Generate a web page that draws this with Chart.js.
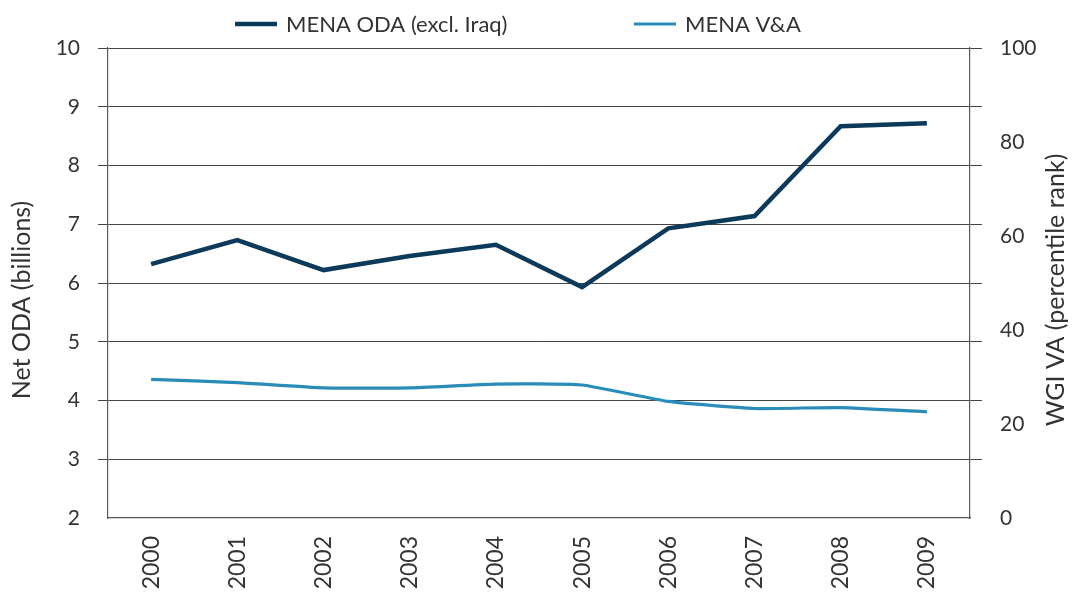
<!DOCTYPE html>
<html><head><meta charset="utf-8">
<script src="https://cdn.jsdelivr.net/npm/chart.js@4/dist/chart.umd.min.js"></script>
<style>html,body{margin:0;padding:0;background:#fff}#wrap{width:1078px;height:594px}</style>
</head><body><div id="wrap"><canvas id="c" width="1078" height="594"></canvas></div>
<script>
const years = ['2000','2001','2002','2003','2004','2005','2006','2007','2008','2009'];
const odaValues = [6.32, 6.73, 6.22, 6.46, 6.65, 5.93, 6.93, 7.14, 8.67, 8.72];
const vaValues = [29.5, 28.8, 27.7, 27.7, 28.5, 28.3, 24.8, 23.3, 23.5, 22.6];
const leftRange = [2, 10];
const rightRange = [0, 100];
const seriesLabels = ['MENA ODA (excl. Iraq)', 'MENA V&A'];
const axisTitles = ['Net ODA (billions)', 'WGI VA (percentile rank)'];

const FONT = 'Lato';
const TXT = '#333333';
const GRID = '#444444';
const AXIS = '#5a5a5a';

const legendPlugin = {
  id: 'customLegend',
  afterDraw(chart) {
    const ctx = chart.ctx;
    const starts = [235, 634];
    ctx.save();
    ctx.font = '22px ' + FONT;
    ctx.textBaseline = 'middle';
    chart.data.datasets.forEach((ds, i) => {
      const x = starts[i], y = 24;
      ctx.strokeStyle = ds.borderColor;
      ctx.lineWidth = ds.borderWidth;
      ctx.beginPath(); ctx.moveTo(x, y); ctx.lineTo(x + 42, y); ctx.stroke();
      ctx.fillStyle = TXT;
      ctx.fillText(ds.label, x + 51, y + 1);
    });
    ctx.restore();
  }
};

const titlePlugin = {
  id: 'axisTitles',
  afterDraw(chart) {
    const ctx = chart.ctx;
    const a = chart.chartArea;
    const mid = (a.top + a.bottom) / 2;
    const draw = (text, x, y) => {
      ctx.save();
      ctx.font = '25px ' + FONT;
      ctx.fillStyle = TXT;
      ctx.textAlign = 'center';
      ctx.textBaseline = 'middle';
      ctx.translate(x, y);
      ctx.rotate(-Math.PI / 2);
      ctx.fillText(text, 0, 0);
      ctx.restore();
    };
    draw(axisTitles[0], 22, mid + 17);
    draw(axisTitles[1], 1056, mid + 7);
  }
};

new Chart(document.getElementById('c'), {
  type: 'line',
  data: {
    labels: years,
    datasets: [
      { label: seriesLabels[0], data: odaValues, yAxisID: 'y', borderColor: '#0d3a5a', backgroundColor: '#0d3a5a', borderWidth: 4.5, pointRadius: 0, tension: 0, fill: false },
      { label: seriesLabels[1], data: vaValues, yAxisID: 'y2', borderColor: '#2a8cb8', backgroundColor: '#2a8cb8', borderWidth: 3.2, pointRadius: 0, tension: 0.15, fill: false }
    ]
  },
  options: {
    responsive: false,
    devicePixelRatio: 1,
    animation: false,
    events: [],
    layout: { padding: { top: 48, left: 0, right: 0, bottom: 0 } },
    plugins: { legend: { display: false }, tooltip: { enabled: false } },
    scales: {
      x: {
        type: 'category',
        offset: true,
        grid: { display: false, drawTicks: false },
        border: { display: true, color: AXIS, width: 1.2 },
        ticks: { autoSkip: false, maxRotation: 90, minRotation: 90, padding: 18, color: TXT, font: { family: FONT, size: 23 } },
        afterFit: s => { s.height = 76; }
      },
      y: {
        position: 'left',
        min: leftRange[0], max: leftRange[1],
        ticks: { stepSize: 1, padding: 18, color: TXT, font: { family: FONT, size: 21 } },
        grid: { color: c => (c.tick && c.tick.value === leftRange[0]) ? 'rgba(0,0,0,0)' : GRID, lineWidth: 1, tickLength: 10 },
        border: { display: true, color: AXIS, width: 1.2 },
        afterFit: s => { s.width = 108; }
      },
      yTickMarks: {
        position: 'right',
        min: leftRange[0], max: leftRange[1],
        weight: 0,
        ticks: { display: false, stepSize: 1 },
        grid: { drawOnChartArea: false, drawTicks: true, tickLength: 12, color: c => (c.tick && c.tick.value === leftRange[0]) ? 'rgba(0,0,0,0)' : GRID },
        border: { display: true, color: AXIS, width: 1.2 },
        afterFit: s => { s.width = 12; }
      },
      y2: {
        position: 'right',
        weight: 1,
        min: rightRange[0], max: rightRange[1],
        ticks: { stepSize: 20, padding: 18, color: TXT, font: { family: FONT, size: 21 } },
        grid: { display: false, drawOnChartArea: false, drawTicks: false },
        border: { display: false },
        afterFit: s => { s.width = 96; }
      }
    }
  },
  plugins: [legendPlugin, titlePlugin]
});
</script>
</body></html>
